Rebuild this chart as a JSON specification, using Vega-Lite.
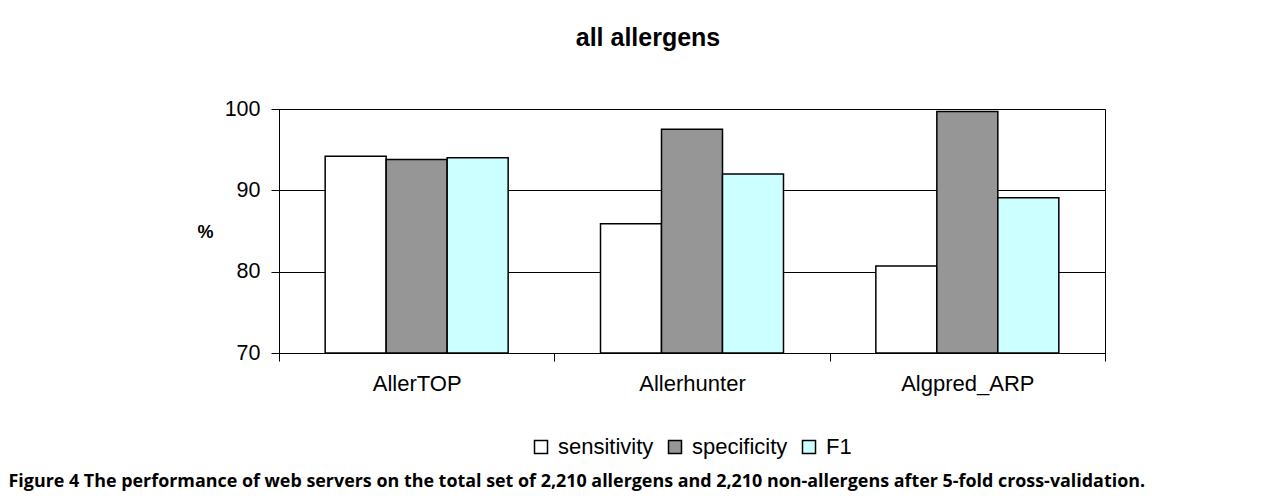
{
  "$schema": "https://vega.github.io/schema/vega-lite/v6.json",
  "width": 826,
  "height": 244,
  "autosize": {"type": "none"},
  "padding": {"left": 279, "top": 109, "right": 177, "bottom": 146},
  "background": "white",
  "title": {
    "text": "all allergens",
    "font": "Liberation Sans",
    "fontSize": 25,
    "fontWeight": "bold",
    "color": "#000000",
    "anchor": "middle",
    "frame": "group",
    "baseline": "alphabetic",
    "offset": 27,
    "dx": -44
  },
  "data": {
    "values": [
      {"server": "AllerTOP", "measure": "sensitivity", "value": 94.2},
      {"server": "AllerTOP", "measure": "specificity", "value": 93.8},
      {"server": "AllerTOP", "measure": "F1", "value": 94.0},
      {"server": "Allerhunter", "measure": "sensitivity", "value": 85.9},
      {"server": "Allerhunter", "measure": "specificity", "value": 97.5},
      {"server": "Allerhunter", "measure": "F1", "value": 92.0},
      {"server": "Algpred_ARP", "measure": "sensitivity", "value": 80.7},
      {"server": "Algpred_ARP", "measure": "specificity", "value": 99.7},
      {"server": "Algpred_ARP", "measure": "F1", "value": 89.1}
    ]
  },
  "mark": {"type": "bar", "stroke": "#000000", "strokeWidth": 1.5},
  "encoding": {
    "x": {
      "field": "server",
      "type": "nominal",
      "sort": ["AllerTOP", "Allerhunter", "Algpred_ARP"],
      "scale": {"paddingInner": 0, "paddingOuter": 0},
      "axis": {
        "title": "Figure 4 The performance of web servers on the total set of 2,210 allergens and 2,210 non-allergens after 5-fold cross-validation.",
        "titleX": -271,
        "titleY": 133,
        "titleAlign": "left",
        "titleAnchor": null,
        "titleBaseline": "alphabetic",
        "titleFont": "Open Sans",
        "titleFontSize": 17.9,
        "titleFontWeight": "bold",
        "titleColor": "#000000",
        "labelAngle": 0,
        "labelFont": "Liberation Sans",
        "labelFontSize": 22,
        "labelColor": "#000000",
        "labelPadding": 12,
        "tickBand": "extent",
        "tickSize": 8,
        "tickColor": "#000000",
        "domainColor": "#000000",
        "grid": false
      }
    },
    "xOffset": {
      "field": "measure",
      "sort": ["sensitivity", "specificity", "F1"],
      "scale": {"paddingInner": 0, "paddingOuter": 0.757}
    },
    "y": {
      "field": "value",
      "type": "quantitative",
      "scale": {"domain": [70, 100], "zero": false, "nice": false},
      "axis": {
        "values": [70, 80, 90, 100],
        "grid": true,
        "gridColor": "#000000",
        "gridOpacity": 1,
        "domainColor": "#000000",
        "tickColor": "#000000",
        "tickSize": 8,
        "labelFont": "Liberation Sans",
        "labelFontSize": 21.5,
        "labelPadding": 11,
        "labelColor": "#000000",
        "title": "%",
        "titleAngle": 0,
        "titleX": -74,
        "titleY": 123,
        "titleAlign": "center",
        "titleBaseline": "middle",
        "titleFont": "Liberation Sans",
        "titleFontSize": 18,
        "titleFontWeight": "bold",
        "titleColor": "#000000"
      }
    },
    "y2": {"datum": 70},
    "fill": {
      "field": "measure",
      "type": "nominal",
      "sort": ["sensitivity", "specificity", "F1"],
      "scale": {"domain": ["sensitivity", "specificity", "F1"], "range": ["#ffffff", "#969696", "#ccffff"]},
      "legend": {
        "title": null,
        "orient": "none",
        "legendX": 251,
        "legendY": 327,
        "direction": "horizontal",
        "symbolType": "square",
        "symbolSize": 169,
        "symbolStrokeColor": "#000000",
        "symbolStrokeWidth": 1.5,
        "symbolOpacity": 1,
        "labelFont": "Liberation Sans",
        "labelFontSize": 22,
        "labelColor": "#000000",
        "labelOffset": 6,
        "columnPadding": 10
      }
    }
  },
  "config": {
    "view": {"stroke": "#000000", "strokeWidth": 1},
    "font": "Liberation Sans"
  }
}
